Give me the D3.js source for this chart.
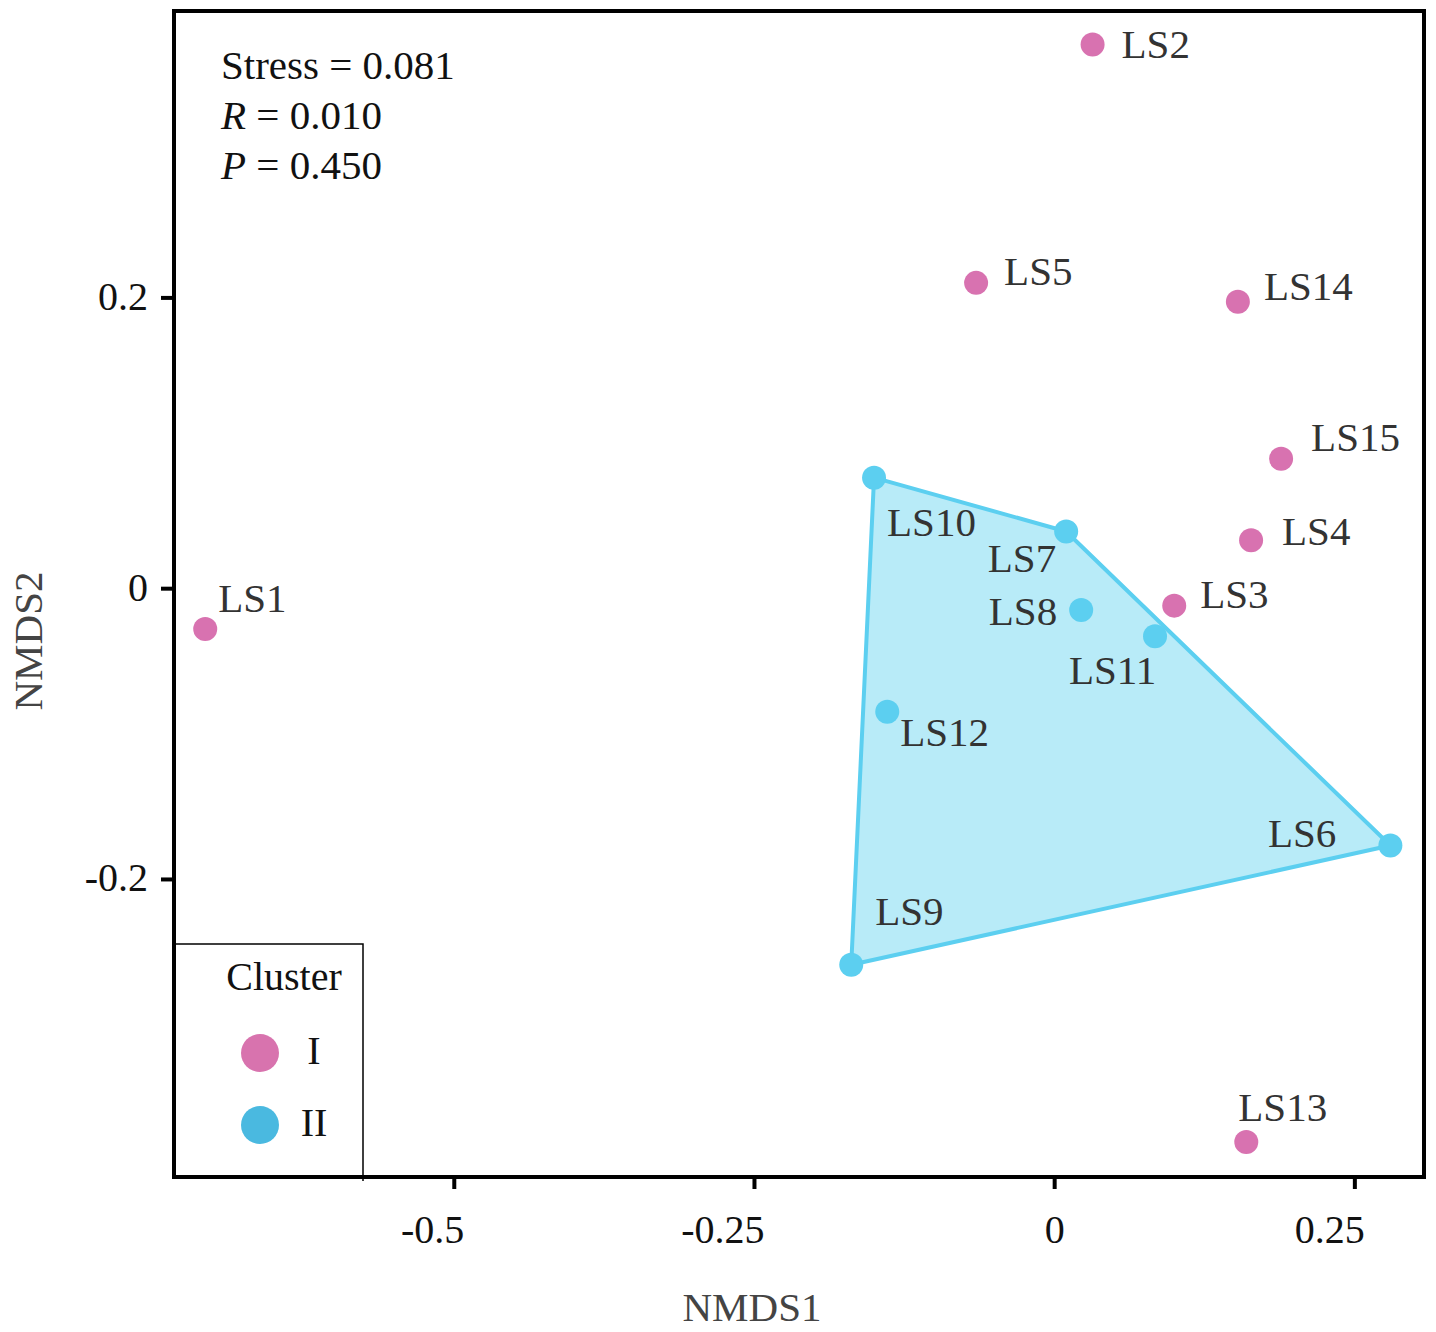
<!DOCTYPE html>
<html>
<head>
<meta charset="utf-8">
<script src="https://cdn.jsdelivr.net/npm/d3@7"></script>
<style>
  html, body { margin: 0; padding: 0; background: #fff; }
  svg { display: block; font-family: "Liberation Serif", "Times New Roman", serif; }
</style>
</head>
<body>
<svg id="chart" width="1436" height="1332"></svg>
<script>
// ---- data ----
const samples  = ["LS1","LS2","LS3","LS4","LS5","LS6","LS7","LS8","LS9","LS10","LS11","LS12","LS13","LS14","LS15"];
const nmds1    = [-0.707, 0.032, 0.100, 0.164, -0.065, 0.280, 0.010, 0.0225, -0.169, -0.150, 0.084, -0.139, 0.160, 0.153, 0.189];
const nmds2    = [-0.028, 0.374, -0.012, 0.033, 0.210, -0.177, 0.039, -0.015, -0.259, 0.076, -0.033, -0.085, -0.381, 0.197, 0.089];
const cluster  = ["I","I","I","I","I","II","II","II","II","II","II","II","I","I","I"];
const clusters = ["I","II"];
const xTicks   = [-0.5, -0.25, 0, 0.25];
const yTicks   = [-0.2, 0, 0.2];
const statsLines = [["Stress", " = 0.081", false], ["R", " = 0.010", true], ["P", " = 0.450", true]];
// label nudges (pixels) : [dx, dy, anchor]
const labelNudge = {
  LS1:[13,-17,"start"], LS2:[29,14,"start"], LS3:[26,2,"start"], LS4:[31,5,"start"],
  LS5:[28,2,"start"], LS6:[-54,1,"end"], LS7:[-10,41,"end"], LS8:[-24,15,"end"],
  LS9:[24,-40,"start"], LS10:[13,58,"start"], LS11:[-86,48,"start"], LS12:[13,34,"start"],
  LS13:[-8,-21,"start"], LS14:[26,-2,"start"], LS15:[30,-8,"start"]
};

const pointColor  = {I:"#d872b0", II:"#5ccff0"};
const legendColor = {I:"#d873ae", II:"#4ab9e0"};

// ---- layout ----
const svg = d3.select("#chart");
const L = 174, R = 1424, T = 11, B = 1177;
const x = d3.scaleLinear().domain([-0.733, 0.308]).range([L, R]);
const y = d3.scaleLinear().domain([-0.405, 0.397]).range([B, T]);

const pts = samples.map((s, i) => ({name: s, x: nmds1[i], y: nmds2[i], c: cluster[i]}));

// hull of cluster II
const hullPts = d3.polygonHull(pts.filter(d => d.c === "II").map(d => [x(d.x), y(d.y)]));
svg.append("path")
  .attr("d", "M" + hullPts.join("L") + "Z")
  .attr("fill", "#b8ebf8")
  .attr("stroke", "#5ccff0")
  .attr("stroke-width", 4)
  .attr("stroke-linejoin", "round");

// axes
const xAxis = svg.append("g").attr("transform", `translate(0,${B})`)
  .call(d3.axisBottom(x).tickValues(xTicks).tickSize(12).tickFormat(d => d === 0 ? "0" : String(d)));
const yAxis = svg.append("g").attr("transform", `translate(${L},0)`)
  .call(d3.axisLeft(y).tickValues(yTicks).tickSize(13).tickFormat(d => d === 0 ? "0" : String(d)));
[xAxis, yAxis].forEach(g => {
  g.select(".domain").remove();
  g.selectAll(".tick line").attr("stroke", "#000").attr("stroke-width", 4);
  g.selectAll(".tick text").attr("font-size", 40).attr("fill", "#111")
    .attr("font-family", "Liberation Serif, serif");
});
xAxis.selectAll(".tick text").attr("text-anchor", "end").attr("dx", 10).attr("y", 66).attr("dy", 0);
yAxis.selectAll(".tick text").attr("x", -26).attr("dy", "0.3em");

// frame
svg.append("rect").attr("x", L).attr("y", T).attr("width", R - L).attr("height", B - T)
  .attr("fill", "none").attr("stroke", "#000").attr("stroke-width", 4);

// points
svg.append("g").selectAll("circle").data(pts).join("circle")
  .attr("cx", d => x(d.x)).attr("cy", d => y(d.y)).attr("r", 12)
  .attr("fill", d => pointColor[d.c]);

// labels
svg.append("g").selectAll("text").data(pts).join("text")
  .attr("x", d => x(d.x) + labelNudge[d.name][0])
  .attr("y", d => y(d.y) + labelNudge[d.name][1])
  .attr("text-anchor", d => labelNudge[d.name][2])
  .attr("font-size", 41).attr("fill", "#333")
  .text(d => d.name);

// stats text
const st = svg.append("g");
statsLines.forEach((s, i) => {
  const t = st.append("text").attr("x", 221).attr("y", 79 + i * 50)
    .attr("font-size", 41).attr("fill", "#111");
  t.append("tspan").attr("font-style", s[2] ? "italic" : "normal").text(s[0]);
  t.append("tspan").text(s[1]);
});

// axis titles
svg.append("text").attr("x", 752).attr("y", 1321).attr("text-anchor", "middle")
  .attr("font-size", 41).attr("fill", "#444").text("NMDS1");
svg.append("text").attr("transform", "translate(42,641) rotate(-90)").attr("text-anchor", "middle")
  .attr("font-size", 41).attr("fill", "#444").text("NMDS2");

// legend
const lg = svg.append("g");
lg.append("path").attr("d", `M${L},944 H363 V1181`).attr("fill", "none")
  .attr("stroke", "#000").attr("stroke-width", 1.5);
lg.append("text").attr("x", 284).attr("y", 990).attr("text-anchor", "middle")
  .attr("font-size", 40).attr("fill", "#111").text("Cluster");
clusters.forEach((c, i) => {
  const cy = 1053 + i * 72;
  lg.append("circle").attr("cx", 260).attr("cy", cy).attr("r", 19).attr("fill", legendColor[c]);
  lg.append("text").attr("x", 314).attr("y", cy + 11).attr("text-anchor", "middle")
    .attr("font-size", 40).attr("fill", "#111").text(c);
});
</script>
</body>
</html>
